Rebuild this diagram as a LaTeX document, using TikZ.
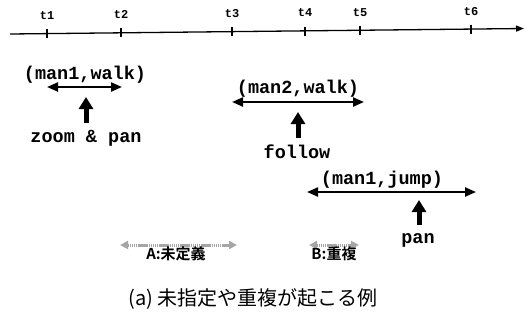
\documentclass[tikz,border=0pt]{standalone}
\usepackage{fontspec}
\setmonofont{Liberation Mono}
\newfontfamily\jpfont{Noto Sans CJK JP}
\newfontfamily\jpbold{Noto Sans CJK JP Bold}
\usetikzlibrary{arrows.meta}
\begin{document}
\begin{tikzpicture}[x=1pt,y=-1pt,
  lbl/.style={font=\ttfamily\bfseries\fontsize{18.5}{19}\selectfont, inner sep=0pt},
  tlbl/.style={font=\ttfamily\bfseries\fontsize{12}{12}\selectfont, inner sep=0pt},
  jplbl/.style={font=\jpbold\fontsize{15}{15}\selectfont, inner sep=0pt},
  caplbl/.style={font=\jpfont\fontsize{20}{20}\selectfont, inner sep=0pt},
  axisline/.style={line width=1.3pt, -{Triangle[length=8pt,width=6pt]}},
  tickmark/.style={line width=1.2pt},
  span/.style={line width=2.2pt, {Triangle[length=11pt,width=9pt]}-{Triangle[length=11pt,width=9pt]}},
  pointer/.style={line width=5pt, -{Triangle[length=12pt,width=14pt]}},
  gapspan/.style={gray!70, line width=3pt, dash pattern=on 1.5pt off 0.6pt, {Triangle[length=8pt,width=8pt]}-{Triangle[length=8pt,width=8pt]}}
]
\useasboundingbox (0,0) rectangle (526,322);
% time axis
\coordinate (L) at (10,34);
\coordinate (R) at (524,28.5);
\draw[axisline] (L) -- (R);
\foreach \n/\x/\y in {t1/47/33.5,t2/121/32.8,t3/232/31.7,t4/305/31,t5/360/30.4,t6/471/29.2}{
  \coordinate (\n) at (\x,\y);
  \draw[tickmark] (\x,\y-4.5) -- (\x,\y+4.5);
  \node[tlbl] (\n lab) at (\x,\y-18) {\n};
}
% (man1,walk)
\node[lbl] (mw) at (85,75) {(man1,walk)};
\coordinate (mwa) at (47,87);
\coordinate (mwb) at (122,87);
\draw[span] (mwa) -- (mwb);
\node[lbl] (zp) at (86,138) {zoom \& pan};
\coordinate (zpb) at (86,123);
\coordinate (zpt) at (86,97);
\draw[pointer] (zpb) -- (zpt);
% (man2,walk)
\node[lbl] (m2) at (298,89) {(man2,walk)};
\coordinate (m2a) at (232,102);
\coordinate (m2b) at (364,102);
\draw[span] (m2a) -- (m2b);
\node[lbl] (fo) at (297,152) {follow};
\coordinate (fob) at (298,138);
\coordinate (fot) at (298,112);
\draw[pointer] (fob) -- (fot);
% (man1,jump)
\node[lbl] (mj) at (382,180) {(man1,jump)};
\coordinate (mja) at (307,192);
\coordinate (mjb) at (476,192);
\draw[span] (mja) -- (mjb);
\node[lbl] (pa) at (418,240) {pan};
\coordinate (pab) at (419,225);
\coordinate (pat) at (419,200);
\draw[pointer] (pab) -- (pat);
% gaps
\coordinate (ga) at (120,245);
\coordinate (gb) at (237,245);
\draw[gapspan] (ga) -- (gb);
\node[jplbl] (gal) at (176,254) {A:未定義};
\coordinate (gc) at (309,245);
\coordinate (gd) at (359,245);
\draw[gapspan] (gc) -- (gd);
\node[jplbl] (gbl) at (334,254) {B:重複};
% caption
\node[caplbl] (cap) at (253,299) {(a) 未指定や重複が起こる例};
\end{tikzpicture}
\end{document}
